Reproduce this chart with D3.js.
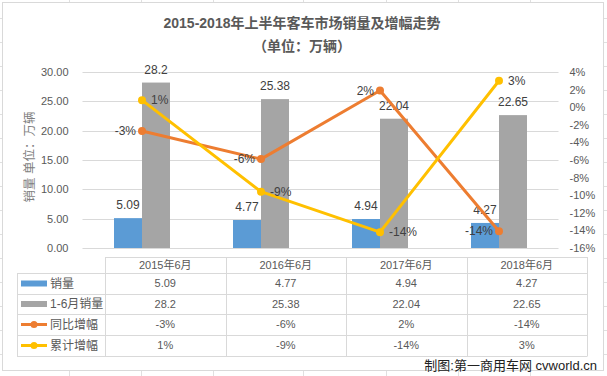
<!DOCTYPE html>
<html>
<head>
<meta charset="utf-8">
<script src="https://cdn.jsdelivr.net/npm/d3@7"></script>
<style>
  body { margin: 0; background: #fff; }
  text { font-family: "Liberation Sans", "Noto Sans CJK SC", sans-serif; }
</style>
</head>
<body>
<div id="chart"></div>
<script>
// Datos
const months = ["2015年6月", "2016年6月", "2017年6月", "2018年6月"];
const sales = [5.09, 4.77, 4.94, 4.27];
const salesH1 = [28.2, 25.38, 22.04, 22.65];
const yoy = [-2.7, -5.9, 1.9, -14.1];
const yoyLabels = ["-3%", "-6%", "2%", "-14%"];
const cum = [0.8, -9.6, -14.2, 3.0];
const cumLabels = ["1%", "-9%", "-14%", "3%"];
const seriesNames = ["销量", "1-6月销量", "同比增幅", "累计增幅"];
const colors = ["#5B9BD5", "#A5A5A5", "#ED7D31", "#FFC000"];

const WIDTH = 607, HEIGHT = 376;
const plot = { left: 82.5, right: 558.5, top: 72, bottom: 248 };
const textColor = "#595959";
const gridColor = "#d9d9d9";

const svg = d3.select("#chart").append("svg")
  .attr("width", WIDTH).attr("height", HEIGHT);

// hoja de cálculo detrás
const sheet = svg.append("g");
d3.range(18, HEIGHT, 24).forEach(y => {
  sheet.append("line").attr("x1", 0).attr("x2", WIDTH).attr("y1", y + 0.5).attr("y2", y + 0.5)
    .attr("stroke", "#e0e0e0");
});
[69, 141, 213, 303, 386, 458, 530].forEach(x => {
  sheet.append("line").attr("x1", x + 0.5).attr("x2", x + 0.5).attr("y1", 0).attr("y2", HEIGHT)
    .attr("stroke", "#e0e0e0");
});

// área del gráfico
svg.append("rect")
  .attr("x", 2.5).attr("y", 2.5).attr("width", 601).attr("height", 368)
  .attr("fill", "#fff").attr("stroke", gridColor);

// Título
svg.append("text").attr("x", 302).attr("y", 28).attr("text-anchor", "middle")
  .style("font-size", "14px").style("font-weight", "bold").attr("fill", textColor)
  .text("2015-2018年上半年客车市场销量及增幅走势");
svg.append("text").attr("x", 302).attr("y", 51).attr("text-anchor", "middle")
  .style("font-size", "14px").style("font-weight", "bold").attr("fill", textColor)
  .text("（单位：万辆）");

// Escalas
const x = d3.scaleBand().domain(months).range([plot.left, plot.right]);
const groupW = 56;
const xSub = d3.scaleBand().domain([0, 1]).range([0, groupW]);
const yL = d3.scaleLinear().domain([0, 30]).range([plot.bottom, plot.top]);
const yR = d3.scaleLinear().domain([-16, 4]).range([plot.bottom, plot.top]);
const cx = m => x(m) + x.bandwidth() / 2;

// Grilla
svg.append("g").selectAll("line")
  .data(d3.range(0, 31, 5))
  .join("line")
  .attr("x1", plot.left).attr("x2", plot.right)
  .attr("y1", d => Math.round(yL(d)) + 0.5).attr("y2", d => Math.round(yL(d)) + 0.5)
  .attr("stroke", gridColor);

// Ejes
const axisL = svg.append("g").attr("transform", `translate(${plot.left - 10},0)`)
  .call(d3.axisLeft(yL).tickValues(d3.range(0, 31, 5)).tickFormat(d3.format(".2f")).tickSize(0).tickPadding(4));
const axisR = svg.append("g").attr("transform", `translate(${plot.right + 7},0)`)
  .call(d3.axisRight(yR).tickValues(d3.range(-16, 5, 2)).tickFormat(d => d + "%").tickSize(0).tickPadding(4));
[axisL, axisR].forEach(a => {
  a.select(".domain").remove();
  a.selectAll("text").attr("fill", textColor).style("font-size", "11px")
    .style("font-family", "'Liberation Sans', sans-serif");
});

svg.append("text")
  .attr("transform", "translate(30,157) rotate(-90)")
  .attr("text-anchor", "middle").attr("dy", "0.35em")
  .style("font-size", "12.5px").attr("fill", "#7f7f7f")
  .text("销量 单位：万辆");

// Barras
const barSeries = [sales, salesH1];
barSeries.forEach((vals, s) => {
  const g = svg.append("g");
  g.selectAll("rect")
    .data(months)
    .join("rect")
    .attr("x", (d, i) => x(d) + (x.bandwidth() - groupW) / 2 + xSub(s))
    .attr("width", xSub.bandwidth())
    .attr("y", (d, i) => yL(vals[i]))
    .attr("height", (d, i) => plot.bottom - yL(vals[i]))
    .attr("fill", colors[s]);
  g.selectAll("text")
    .data(months)
    .join("text")
    .attr("x", (d, i) => x(d) + (x.bandwidth() - groupW) / 2 + xSub(s) + xSub.bandwidth() / 2)
    .attr("y", (d, i) => yL(vals[i]) - 9)
    .attr("text-anchor", "middle")
    .style("font-size", "12px").attr("fill", "#404040")
    .text((d, i) => vals[i]);
});

// Líneas
const lineSeries = [
  { vals: yoy, labels: yoyLabels, color: colors[2], dx: -6, anchor: "end" },
  { vals: cum, labels: cumLabels, color: colors[3], dx: 9, anchor: "start" }
];
lineSeries.forEach(s => {
  const line = d3.line().x((d, i) => cx(months[i])).y(d => yR(d));
  svg.append("path").datum(s.vals)
    .attr("d", line).attr("fill", "none")
    .attr("stroke", s.color).attr("stroke-width", 3).attr("stroke-linejoin", "round");
  svg.append("g").selectAll("circle")
    .data(s.vals).join("circle")
    .attr("cx", (d, i) => cx(months[i])).attr("cy", d => yR(d)).attr("r", 4)
    .attr("fill", s.color);
});
lineSeries.forEach(s => {
  svg.append("g").selectAll("text")
    .data(s.vals).join("text")
    .attr("x", (d, i) => cx(months[i]) + s.dx).attr("y", d => yR(d))
    .attr("dy", "0.35em").attr("text-anchor", s.anchor)
    .style("font-size", "12px").attr("fill", "#404040")
    .text((d, i) => s.labels[i]);
});

// Tabla de datos
const tbl = { left: 17, keyRight: 105, right: 587, headTop: 257, rows: [273, 294, 314, 335, 356] };
const colX = d3.scaleBand().domain(months).range([tbl.keyRight, tbl.right]);
const tg = svg.append("g");
const hl = (x1, x2, y) => tg.append("line").attr("x1", x1).attr("x2", x2)
  .attr("y1", y + 0.5).attr("y2", y + 0.5).attr("stroke", gridColor);
const vl = (xx, y1, y2) => tg.append("line").attr("x1", xx + 0.5).attr("x2", xx + 0.5)
  .attr("y1", y1).attr("y2", y2).attr("stroke", gridColor);
hl(tbl.keyRight, tbl.right, tbl.headTop);
tbl.rows.forEach(y => hl(tbl.left, tbl.right, y));
vl(tbl.left, tbl.rows[0], tbl.rows[4] + 0.5);
months.forEach(m => vl(Math.round(colX(m)), tbl.headTop, tbl.rows[4] + 0.5));
vl(tbl.right, tbl.headTop, tbl.rows[4] + 0.5);

tg.selectAll(".head").data(months).join("text")
  .attr("x", m => colX(m) + colX.bandwidth() / 2).attr("y", (tbl.headTop + tbl.rows[0]) / 2)
  .attr("dy", "0.35em").attr("text-anchor", "middle")
  .style("font-size", "11px").attr("fill", textColor).text(m => m);

const rowVals = [sales, salesH1, yoyLabels, cumLabels];
rowVals.forEach((vals, r) => {
  const yc = (tbl.rows[r] + tbl.rows[r + 1]) / 2;
  tg.append("g").selectAll("text").data(months).join("text")
    .attr("x", m => colX(m) + colX.bandwidth() / 2).attr("y", yc)
    .attr("dy", "0.35em").attr("text-anchor", "middle")
    .style("font-size", "11px").attr("fill", textColor)
    .text((m, i) => vals[i]);
  // leyenda
  if (r < 2) {
    tg.append("rect").attr("x", 21).attr("y", yc - 3).attr("width", 26).attr("height", 6)
      .attr("fill", colors[r]);
  } else {
    tg.append("line").attr("x1", 21).attr("x2", 47).attr("y1", yc).attr("y2", yc)
      .attr("stroke", colors[r]).attr("stroke-width", 3);
    tg.append("circle").attr("cx", 34).attr("cy", yc).attr("r", 3.5).attr("fill", colors[r]);
  }
  tg.append("text").attr("x", 50).attr("y", yc).attr("dy", "0.35em")
    .style("font-size", "12px").attr("fill", textColor).text(seriesNames[r]);
});

// Fuente
svg.append("text").attr("x", 597).attr("y", 365).attr("dy", "0.35em")
  .attr("text-anchor", "end").style("font-size", "13px").attr("fill", "#222")
  .text("制图:第一商用车网 cvworld.cn");
</script>
</body>
</html>
